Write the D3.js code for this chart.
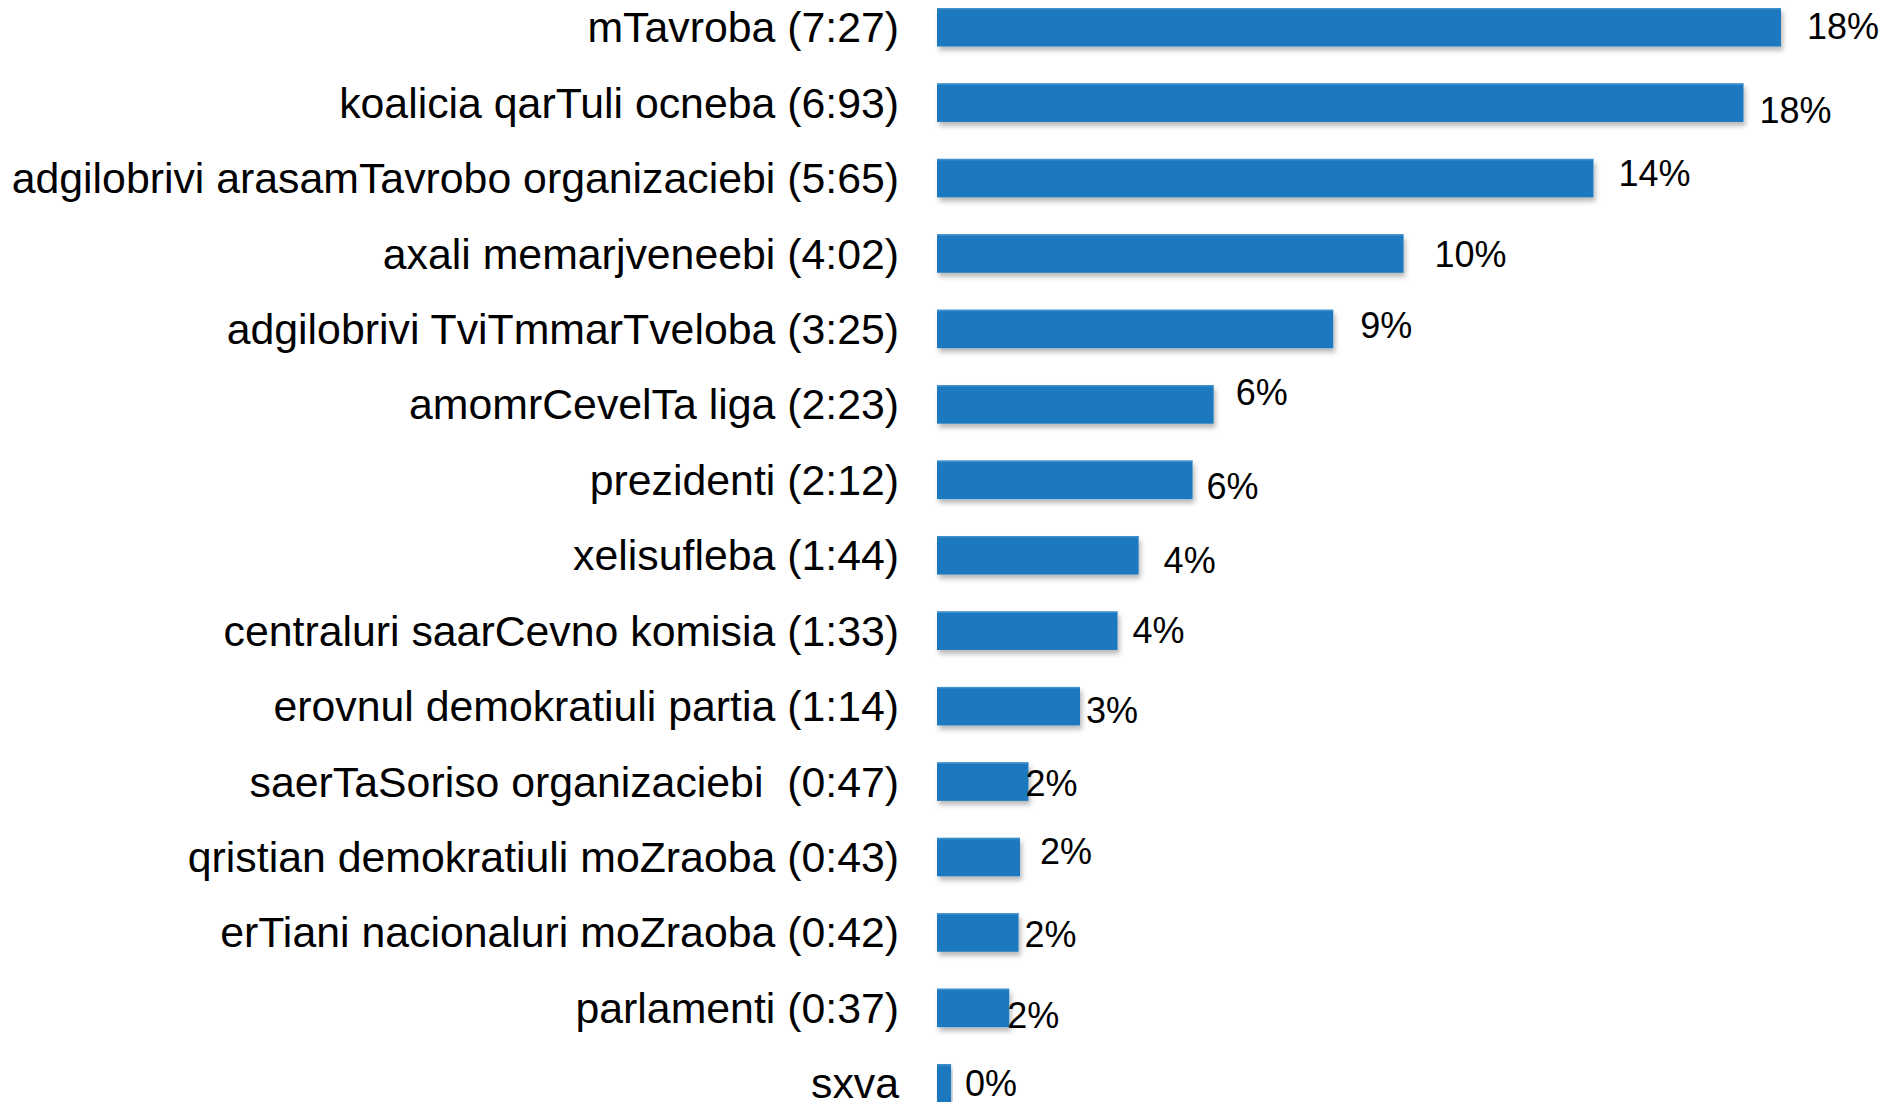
<!DOCTYPE html>
<html>
<head>
<meta charset="utf-8">
<script src="https://cdn.jsdelivr.net/npm/d3@7"></script>
<style>
  html, body { margin: 0; padding: 0; background: #fff; }
  svg { display: block; }
  text { font-family: "Liberation Sans", Arial, sans-serif; fill: #000; white-space: pre; }
</style>
</head>
<body>
<script>
// categories (label text as shown) and bar values (share, %)
let categories = [
  "mTavroba (7:27)",
  "koalicia qarTuli ocneba (6:93)",
  "adgilobrivi arasamTavrobo organizaciebi (5:65)",
  "axali memarjveneebi (4:02)",
  "adgilobrivi TviTmmarTveloba (3:25)",
  "amomrCevelTa liga (2:23)",
  "prezidenti (2:12)",
  "xelisufleba (1:44)",
  "centraluri saarCevno komisia (1:33)",
  "erovnul demokratiuli partia (1:14)",
  "saerTaSoriso organizaciebi  (0:47)",
  "qristian demokratiuli moZraoba (0:43)",
  "erTiani nacionaluri moZraoba (0:42)",
  "parlamenti (0:37)",
  "sxva",
];
let values = [18.0, 17.2, 14.0, 9.95, 8.45, 5.9, 5.45, 4.3, 3.85, 3.05, 1.95, 1.77, 1.74, 1.54, 0.3];
let valueLabels = ["18%", "18%", "14%", "10%", "9%", "6%", "6%", "4%", "4%", "3%", "2%", "2%", "2%", "2%", "0%"];

// hand-placed data label nudges [dx from bar end, dy from bar centre]
let labelNudge = [
  [26, -1.5], [16, 7], [25, -5], [31, 0.5], [27, -3.5], [22, -12], [14, 6], [25, 4.5],
  [15, -1], [6, 3.5], [-3, 1.5], [20, -6], [6, 1.5], [-2, 7], [14, 0],
];

let width = 1891;
let height = 1102;
let barLeft = 937;

let svg = d3.select("body").append("svg")
  .attr("width", width)
  .attr("height", height);

let defs = svg.append("defs");
let shadow = defs.append("filter")
  .attr("id", "shadow")
  .attr("x", "-5%").attr("y", "-20%")
  .attr("width", "115%").attr("height", "160%");
shadow.append("feDropShadow")
  .attr("dx", 2).attr("dy", 4)
  .attr("stdDeviation", 2.5)
  .attr("flood-color", "#000")
  .attr("flood-opacity", 0.28);

let step = 75.44;
let yScale = d3.scaleBand()
  .domain(d3.range(categories.length))
  .range([8 - 0.245 * step, 8 - 0.245 * step + categories.length * step])
  .paddingInner(0.49)
  .paddingOuter(0.245);

let xScale = d3.scaleLinear()
  .domain([0, 18])
  .range([0, 844]);

let rows = svg.selectAll("g.row")
  .data(values)
  .enter()
  .append("g")
  .attr("class", "row");

rows.append("rect")
  .attr("x", barLeft)
  .attr("y", (d, i) => yScale(i))
  .attr("width", (d) => xScale(d))
  .attr("height", yScale.bandwidth())
  .attr("fill", "#1b79bf")
  .attr("filter", "url(#shadow)");

// lighter top edge
rows.append("rect")
  .attr("x", barLeft)
  .attr("y", (d, i) => yScale(i))
  .attr("width", (d) => xScale(d))
  .attr("height", 1.5)
  .attr("fill", "#3f8fcc");

rows.append("text")
  .attr("x", 899)
  .attr("y", (d, i) => yScale(i) + yScale.bandwidth() / 2)
  .attr("dy", "0.35em")
  .attr("text-anchor", "end")
  .attr("font-size", "42.8px")
  .text((d, i) => categories[i]);

rows.append("text")
  .attr("x", (d, i) => barLeft + xScale(d) + labelNudge[i][0])
  .attr("y", (d, i) => yScale(i) + yScale.bandwidth() / 2 + labelNudge[i][1])
  .attr("dy", "0.36em")
  .attr("font-size", "36px")
  .text((d, i) => valueLabels[i]);
</script>
</body>
</html>
